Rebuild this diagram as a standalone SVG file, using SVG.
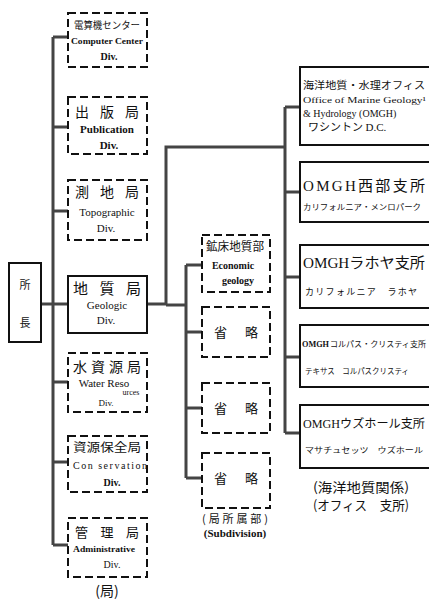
<svg xmlns="http://www.w3.org/2000/svg" width="429" height="602" viewBox="0 0 429 602">
<style>
.bg{fill:#fff}
.dash{fill:none;stroke:#111;stroke-width:2;stroke-dasharray:8,4}
.solid{fill:none;stroke:#111;stroke-width:2}
.con{fill:none;stroke:#444;stroke-width:3}
.j{font-family:"Noto Sans CJK JP",sans-serif;fill:#111;text-anchor:middle}
.e{font-family:"Liberation Serif",serif;font-weight:bold;fill:#111;text-anchor:middle}
.s{text-anchor:start}
.n{font-weight:normal}
.ser{font-family:"Liberation Serif",serif}
</style>
<rect class="bg" x="0" y="0" width="429" height="602"/>
<g id="connectors">
<path class="con" d="M53,37 V545"/>
<path class="con" d="M53,37 H68 M53,127 H68 M53,211 H68 M53,382 H68 M53,462 H68 M53,545 H68"/>
<path class="con" d="M41,304 H68"/>
<path class="con" d="M147,304 H166 V147 H285"/>
<path class="con" d="M166,305 H186"/>
<path class="con" d="M186,265 V478 M186,265 H202 M186,332 H202 M186,408 H202 M186,478 H202"/>
<path class="con" d="M285,107 V433 M285,107 H300 M285,192 H300 M285,277 H300 M285,357 H300 M285,433 H300"/>
</g>
<g id="root">
<rect class="solid" x="9" y="263" width="32" height="79"/>
<text class="j" x="25" y="289" font-size="11">所</text>
<text class="j" x="25" y="327" font-size="11">長</text>
</g>
<g id="computer">
<rect class="dash" x="68" y="13" width="79" height="54"/>
<text class="j" x="107" y="29" font-size="10" textLength="66" lengthAdjust="spacingAndGlyphs">電算機センター</text>
<text class="e" x="107" y="44" font-size="9" textLength="72" lengthAdjust="spacingAndGlyphs">Computer Center</text>
<text class="e" x="109" y="60" font-size="10">Div.</text>
</g>
<g id="publication">
<rect class="dash" x="68" y="97" width="79" height="57"/>
<text class="j" x="107" y="117" font-size="14" textLength="64" lengthAdjust="spacing">出版局</text>
<text class="e" x="107" y="133" font-size="11">Publication</text>
<text class="e" x="109" y="149" font-size="11">Div.</text>
</g>
<g id="topographic">
<rect class="dash" x="68" y="180" width="79" height="60"/>
<text class="j" x="107" y="197" font-size="14" textLength="64" lengthAdjust="spacing">測地局</text>
<text class="e n" x="107" y="216" font-size="11">Topographic</text>
<text class="e n" x="106" y="232" font-size="11">Div.</text>
</g>
<g id="geologic">
<rect class="solid" x="68" y="276" width="79" height="57"/>
<text class="j" x="107" y="294" font-size="15" textLength="68" lengthAdjust="spacing">地質局</text>
<text class="e n" x="107" y="309" font-size="11">Geologic</text>
<text class="e n" x="106" y="324" font-size="11">Div.</text>
</g>
<g id="water">
<rect class="dash" x="68" y="353" width="79" height="59"/>
<text class="j" x="107" y="372" font-size="14" textLength="68" lengthAdjust="spacing">水資源局</text>
<text class="e n" x="104" y="387" font-size="11">Water Reso</text>
<text class="e n" x="131" y="395" font-size="8">urces</text>
<text class="e n" x="106" y="406" font-size="9">Div.</text>
</g>
<g id="conservation">
<rect class="dash" x="68" y="436" width="79" height="56"/>
<text class="j" x="107" y="452" font-size="12" textLength="68" lengthAdjust="spacingAndGlyphs">資源保全局</text>
<text class="e n" x="110" y="469" font-size="10" textLength="74" lengthAdjust="spacing">Con servation</text>
<text class="e" x="112" y="486" font-size="10">Div.</text>
</g>
<g id="administrative">
<rect class="dash" x="68" y="518" width="79" height="59"/>
<text class="j" x="107" y="537" font-size="13" textLength="64" lengthAdjust="spacing">管理局</text>
<text class="e" x="104" y="552" font-size="9" textLength="62" lengthAdjust="spacingAndGlyphs">Administrative</text>
<text class="e n" x="112" y="568" font-size="10">Div.</text>
</g>
<text class="j" x="107" y="596" font-size="14">(局)</text>
<g id="economic">
<rect class="dash" x="202" y="235" width="68" height="57"/>
<text class="j" x="235" y="251" font-size="12" textLength="58" lengthAdjust="spacingAndGlyphs">鉱床地質部</text>
<text class="e" x="233" y="269" font-size="10">Economic</text>
<text class="e" x="238" y="284" font-size="10">geology</text>
</g>
<g id="omit1">
<rect class="dash" x="202" y="307" width="68" height="50"/>
<text class="j" x="236" y="337" font-size="13" textLength="44" lengthAdjust="spacing">省略</text>
</g>
<g id="omit2">
<rect class="dash" x="202" y="383" width="68" height="50"/>
<text class="j" x="236" y="413" font-size="13" textLength="44" lengthAdjust="spacing">省略</text>
</g>
<g id="omit3">
<rect class="dash" x="202" y="453" width="68" height="55"/>
<text class="j" x="236" y="483" font-size="13" textLength="44" lengthAdjust="spacing">省略</text>
</g>
<text class="j" x="235" y="523" font-size="11" textLength="66" lengthAdjust="spacing">(局所属部)</text>
<text class="e" x="235" y="537" font-size="11">(Subdivision)</text>
<g id="omgh">
<rect class="solid" x="300" y="67" width="131" height="78"/>
<text class="j s" x="303" y="89" font-size="10" textLength="122" lengthAdjust="spacingAndGlyphs">海洋地質・水理オフィス</text>
<text class="e s n" x="303" y="103" font-size="9" textLength="123" lengthAdjust="spacingAndGlyphs">Office of Marine Geology¹</text>
<text class="e s n" x="303" y="117" font-size="10">&amp; Hydrology (OMGH)</text>
<text class="j s" x="308" y="131" font-size="11">ワシントン <tspan class="ser">D.C.</tspan></text>
</g>
<g id="west">
<rect class="solid" x="300" y="162" width="131" height="60"/>
<text class="j s" x="303" y="191" font-size="15" textLength="122" lengthAdjust="spacing"><tspan class="ser">OMGH</tspan>西部支所</text>
<text class="j s" x="303" y="210" font-size="8" textLength="118" lengthAdjust="spacingAndGlyphs">カリフォルニア・メンロパーク</text>
</g>
<g id="lajolla">
<rect class="solid" x="300" y="245" width="131" height="63"/>
<text class="j s" x="303" y="268" font-size="15" textLength="122" lengthAdjust="spacingAndGlyphs"><tspan class="ser">OMGH</tspan>ラホヤ支所</text>
<text class="j s" x="305" y="295" font-size="9" textLength="112" lengthAdjust="spacing">カリフォルニア　ラホヤ</text>
</g>
<g id="corpus">
<rect class="solid" x="300" y="325" width="131" height="62"/>
<text class="e s" x="302" y="347" font-size="9" textLength="27" lengthAdjust="spacingAndGlyphs">OMGH</text>
<text class="j s" x="330" y="347" font-size="8" textLength="96" lengthAdjust="spacingAndGlyphs">コルパス・クリスティ支所</text>
<text class="j s" x="305" y="374" font-size="8" textLength="104" lengthAdjust="spacingAndGlyphs">テキサス　コルパスクリスティ</text>
</g>
<g id="woods">
<rect class="solid" x="300" y="405" width="131" height="63"/>
<text class="j s" x="303" y="428" font-size="12" textLength="122" lengthAdjust="spacingAndGlyphs"><tspan class="ser">OMGH</tspan>ウズホール支所</text>
<text class="j s" x="305" y="453" font-size="8" textLength="118" lengthAdjust="spacingAndGlyphs">マサチュセッツ　ウズホール</text>
</g>
<text class="j" x="361" y="492" font-size="13" textLength="96" lengthAdjust="spacingAndGlyphs">(海洋地質関係)</text>
<text class="j" x="361" y="510" font-size="13" textLength="96" lengthAdjust="spacingAndGlyphs">(オフィス　支所)</text>
</svg>
